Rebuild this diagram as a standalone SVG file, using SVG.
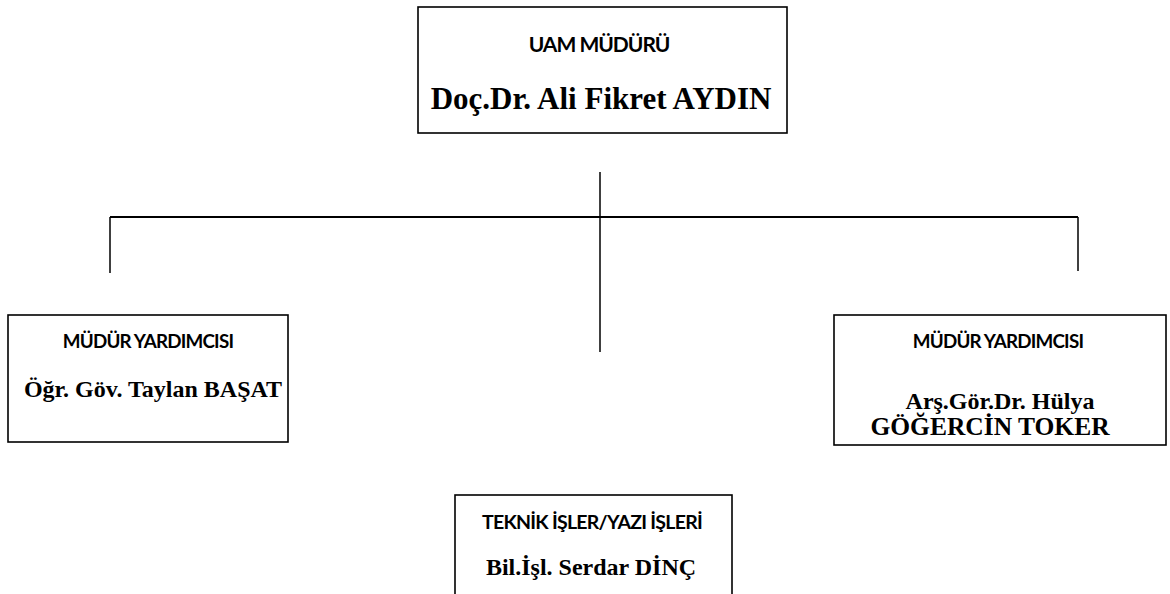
<svg xmlns="http://www.w3.org/2000/svg" width="1170" height="594" viewBox="0 0 1170 594">
<style>
.box{fill:#fff;stroke:#000;stroke-width:1.6}
.h{font-family:Lato,"Open Sans",sans-serif;font-weight:bold;font-size:18.8px;letter-spacing:-0.8px;text-anchor:middle;fill:#000}
.n{font-family:"Liberation Serif",serif;font-weight:bold;font-size:24px;text-anchor:middle;fill:#000}
.c{stroke:#000;stroke-width:1.5;fill:none}
</style>
<rect width="1170" height="594" fill="#fff"/>
<g id="connectors">
<line class="c" x1="600" y1="172" x2="600" y2="352"/>
<line class="c" x1="110" y1="217" x2="1078" y2="217" style="stroke-width:2.2"/>
<line class="c" x1="110" y1="217" x2="110" y2="273"/>
<line class="c" x1="1078" y1="217" x2="1078" y2="271"/>
</g>
<g id="n-mudur">
<rect class="box" x="418" y="7" width="369" height="126"/>
<text class="h" x="599" y="52" style="font-size:21px;letter-spacing:-1px">UAM MÜDÜRÜ</text>
<text class="n" x="601" y="109" style="font-size:31px">Doç.Dr. Ali Fikret AYDIN</text>
</g>
<g id="n-yard1">
<rect class="box" x="8" y="315" width="280" height="127"/>
<text class="h" x="148" y="348">MÜDÜR YARDIMCISI</text>
<text class="n" x="153" y="397">Öğr. Göv. Taylan BAŞAT</text>
</g>
<g id="n-yard2">
<rect class="box" x="834" y="315" width="332" height="130"/>
<text class="h" x="998" y="348">MÜDÜR YARDIMCISI</text>
<text class="n" x="1000" y="409">Arş.Gör.Dr. Hülya</text>
<text class="n" x="990" y="435" style="font-size:25.5px">GÖĞERCİN TOKER</text>
</g>
<g id="n-teknik">
<rect class="box" x="455" y="495" width="277" height="110"/>
<text class="h" x="592" y="529" style="font-size:19.5px;letter-spacing:-0.75px">TEKNİK İŞLER/YAZI İŞLERİ</text>
<text class="n" x="591" y="575">Bil.İşl. Serdar DİNÇ</text>
</g>
</svg>
